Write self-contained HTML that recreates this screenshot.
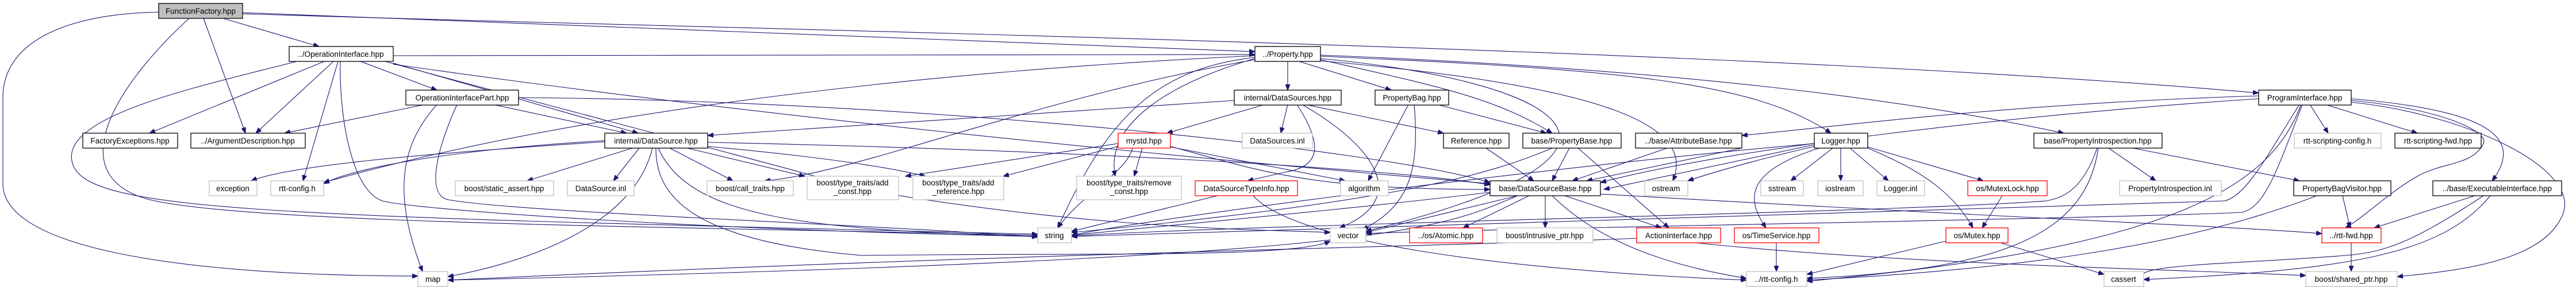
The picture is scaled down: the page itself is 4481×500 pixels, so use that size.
<!DOCTYPE html>
<html><head><meta charset="utf-8"><style>
html,body{margin:0;padding:0;background:#fff;}
svg{display:block;}
text{font-family:"Liberation Sans",sans-serif;font-size:13.5px;fill:#000;text-anchor:middle;}
.n rect{fill:#fff;stroke:#000;stroke-width:1.3;}
.g rect{fill:#fff;stroke:#bfbfbf;stroke-width:1.3;}
.r rect{fill:#fff;stroke:#ff0000;stroke-width:1.3;}
.e path{fill:none;stroke:#191970;stroke-width:1.1;marker-end:url(#a);}
</style></head><body>
<svg width="4481" height="500" viewBox="0 0 4481 500" xmlns="http://www.w3.org/2000/svg">
<defs><marker id="a" markerUnits="userSpaceOnUse" markerWidth="11" markerHeight="8" refX="10" refY="4" orient="auto"><path d="M0,0 L10,4 L0,8 z" fill="#191970" stroke="#191970"/></marker></defs>
<g class="e">
<!-- FunctionFactory -->
<path d="M388,32 L555,81"/>
<path d="M354,32 L427,232"/>
<path d="M276,21 C100,25 5,80 5,170 L5,320 C5,430 300,480 727,481"/>
<path d="M329,32 C200,150 110,300 250,345 C400,390 1200,395 1805,410"/>
<path d="M422,22 L2183,90"/>
<path d="M422,24 C1200,50 3000,80 3929,162"/>
<!-- OperationInterface -->
<path d="M564,107 L260,232"/>
<path d="M580,107 L445,232"/>
<path d="M588,107 L527,315"/>
<path d="M592,107 C590,200 610,330 665,350 C720,365 1200,400 1805,412"/>
<path d="M516,107 C350,150 110,200 125,280 C140,370 450,375 1805,408"/>
<path d="M627,107 L760,157"/>
<path d="M684,110 L1110,232"/>
<path d="M684,112 C1300,200 2000,270 2592,320"/>
<path d="M684,97 L2183,95"/>
<path d="M670,107 C900,170 1400,300 1500,330 C1900,400 2200,400 2314,405"/>
<!-- OperationInterfacePart -->
<path d="M740,182 L495,232"/>
<path d="M857,182 L1090,232"/>
<path d="M902,170 C1600,175 2400,260 2592,318"/>
<path d="M795,182 C760,260 740,340 780,348 C900,370 1500,390 1805,413"/>
<path d="M760,182 C700,250 680,330 735,473"/>
<!-- internal/DataSource -->
<path d="M1100,258 L917,315"/>
<path d="M1112,258 L1067,315"/>
<path d="M1165,258 L1275,315"/>
<path d="M1195,258 L1400,307"/>
<path d="M1231,255 C1500,280 1580,300 1610,307"/>
<path d="M1231,248 C1800,260 2400,290 2592,322"/>
<path d="M1052,245 C800,260 620,290 563,320"/>
<path d="M1052,247 C700,270 500,290 437,315"/>
<path d="M1141,258 C1140,340 1200,420 1500,445 C1900,440 2250,450 2314,420"/>
<path d="M1145,258 C1200,380 1400,400 1805,412"/>
<path d="M1135,258 C1100,400 900,460 779,482"/>
<!-- mystd -->
<path d="M1945,250 L1575,307"/>
<path d="M1945,255 L1745,307"/>
<path d="M1987,258 L1973,307"/>
<path d="M2036,255 C2200,300 2280,330 2592,330"/>
<path d="M2036,256 L2340,315"/>
<path d="M1970,258 C1960,300 1880,340 1840,397"/>
<!-- internal/DataSources -->
<path d="M2147,175 L1231,236"/>
<path d="M2200,182 L2030,232"/>
<path d="M2240,182 L2228,232"/>
<path d="M2270,182 L2511,232"/>
<path d="M2256,182 C2300,250 2300,290 2235,300 L2170,315"/>
<path d="M2265,182 C2400,260 2450,350 2330,397"/>
<!-- Property -->
<path d="M2240,107 L2240,157"/>
<path d="M2260,107 L2420,157"/>
<path d="M2297,104 C2500,150 2600,170 2700,232"/>
<path d="M2297,98 C2800,120 3050,140 3185,232"/>
<path d="M2297,96 C2900,120 3300,170 3590,232"/>
<path d="M2183,100 C2000,120 1920,220 1840,397"/>
<path d="M2183,102 C2050,140 1920,210 1940,307"/>
<path d="M2183,97 C1700,120 1050,180 563,318"/>
<path d="M2183,104 C1800,170 1500,300 1330,315"/>
<path d="M2297,106 C2800,150 2950,220 2910,315"/>
<path d="M2297,102 C2700,140 2950,260 2376,403"/>
<!-- PropertyBag -->
<path d="M2450,182 L2380,315"/>
<path d="M2460,182 C2470,300 2450,360 2370,400"/>
<path d="M2500,182 L2690,232"/>
<!-- Reference / PropertyBase / AttributeBase -->
<path d="M2585,258 L2668,315"/>
<path d="M2730,258 L2700,315"/>
<path d="M2700,258 C2600,300 2450,350 1864,405"/>
<path d="M2745,258 L2903,397"/>
<path d="M2900,258 L2735,315"/>
<path d="M3030,258 L2760,315"/>
<!-- DataSourceBase -->
<path d="M2640,341 L2376,405"/>
<path d="M2660,341 L2545,397"/>
<path d="M2688,341 L2688,397"/>
<path d="M2722,341 L2890,397"/>
<path d="M2592,335 C2300,370 2000,395 1864,410"/>
<path d="M2640,341 C2500,400 2420,450 779,488"/>
<path d="M2784,338 C3500,380 3900,395 4039,407"/>
<path d="M2700,341 C2800,440 2950,470 3038,485"/>
<!-- DataSourceTypeInfo -->
<path d="M2118,341 L1864,403"/>
<path d="M2180,341 C2250,420 2600,470 3038,488"/>
<!-- ActionInterface -->
<path d="M2850,415 C2500,430 1800,440 779,488"/>
<path d="M2950,423 C3300,460 3800,470 4011,480"/>
<!-- Logger -->
<path d="M3188,258 L3115,315"/>
<path d="M3202,258 L3202,315"/>
<path d="M3218,258 L3285,315"/>
<path d="M3249,256 L3450,315"/>
<path d="M3249,258 C3350,300 3400,340 3432,397"/>
<path d="M3165,258 C3030,300 3040,350 3072,397"/>
<path d="M3156,250 C2700,290 2000,380 1864,410"/>
<path d="M3156,255 C3050,280 2980,300 2936,315"/>
<path d="M3156,252 L2790,330"/>
<!-- MutexLock, Mutex, TimeService -->
<path d="M3483,341 L3448,397"/>
<path d="M3385,420 L3143,478"/>
<path d="M3480,423 L3660,478"/>
<path d="M3090,423 L3090,473"/>
<!-- PropertyIntrospection -->
<path d="M3668,258 L3750,315"/>
<path d="M3710,258 L4000,315"/>
<path d="M3648,258 C3620,340 3580,345 3560,350 C3300,370 2200,390 1864,411"/>
<path d="M3650,258 C3630,400 3500,470 3143,485"/>
<!-- ProgramInterface -->
<path d="M4018,182 L4050,232"/>
<path d="M4045,182 L4205,232"/>
<path d="M4090,172 C4300,190 4400,230 4335,315"/>
<path d="M4090,175 C4250,190 4330,230 4320,250 C4300,290 4250,280 4200,310 C4150,340 4110,380 4080,397"/>
<path d="M4090,178 C4300,200 4500,300 4455,380 C4420,450 4300,470 4170,482"/>
<path d="M3929,167 C3500,180 3200,220 3030,236"/>
<path d="M3929,172 C3500,200 3000,260 2784,318"/>
<path d="M4000,182 C3950,260 3910,340 3870,350 C3600,360 2400,395 1864,412"/>
<path d="M4005,182 C3960,300 3940,360 3900,370 C3700,380 2500,400 2376,407"/>
<path d="M4003,182 C3950,320 3800,430 3143,490"/>
<!-- PropertyBagVisitor / ExecutableInterface / rtt-fwd -->
<path d="M4075,341 L4088,397"/>
<path d="M4030,341 C3800,430 3500,470 3143,488"/>
<path d="M4305,341 L4130,397"/>
<path d="M4320,341 C4200,420 4150,440 4080,445 C3900,460 3700,460 3729,485"/>
<path d="M4332,341 C4250,440 4100,470 3729,487"/>
<path d="M4090,423 L4090,473"/>
</g>
<!-- nodes -->
<g class="n"><rect x="276" y="6" width="146" height="26" style="fill:#bfbfbf"/><text x="349" y="24">FunctionFactory.hpp</text></g>
<g class="n"><rect x="503" y="81" width="181" height="26"/><text x="593" y="99">../OperationInterface.hpp</text></g>
<g class="n"><rect x="706" y="157" width="196" height="26"/><text x="804" y="175">OperationInterfacePart.hpp</text></g>
<g class="n"><rect x="144" y="232" width="165" height="26"/><text x="226" y="250">FactoryExceptions.hpp</text></g>
<g class="n"><rect x="332" y="232" width="199" height="26"/><text x="431" y="250">../ArgumentDescription.hpp</text></g>
<g class="g"><rect x="364" y="315" width="83" height="26"/><text x="405" y="333">exception</text></g>
<g class="g"><rect x="471" y="315" width="92" height="26"/><text x="517" y="333">rtt-config.h</text></g>
<g class="g"><rect x="727" y="473" width="52" height="26"/><text x="753" y="491">map</text></g>
<g class="n"><rect x="1052" y="232" width="179" height="26"/><text x="1141" y="250">internal/DataSource.hpp</text></g>
<g class="g"><rect x="792" y="315" width="171" height="26"/><text x="877" y="333">boost/static_assert.hpp</text></g>
<g class="g"><rect x="987" y="315" width="116" height="26"/><text x="1045" y="333">DataSource.inl</text></g>
<g class="g"><rect x="1230" y="315" width="150" height="26"/><text x="1305" y="333">boost/call_traits.hpp</text></g>
<g class="g"><rect x="1404" y="307" width="159" height="41"/><text x="1483" y="323">boost/type_traits/add</text><text x="1483" y="338">_const.hpp</text></g>
<g class="g"><rect x="1588" y="307" width="158" height="41"/><text x="1667" y="323">boost/type_traits/add</text><text x="1667" y="338">_reference.hpp</text></g>
<g class="n"><rect x="2183" y="81" width="114" height="26"/><text x="2240" y="99">../Property.hpp</text></g>
<g class="n"><rect x="2147" y="157" width="186" height="26"/><text x="2240" y="175">internal/DataSources.hpp</text></g>
<g class="r"><rect x="1945" y="232" width="91" height="26"/><text x="1990" y="250">mystd.hpp</text></g>
<g class="g"><rect x="2161" y="232" width="122" height="26"/><text x="2222" y="250">DataSources.inl</text></g>
<g class="g"><rect x="1873" y="307" width="182" height="41"/><text x="1964" y="323">boost/type_traits/remove</text><text x="1964" y="338">_const.hpp</text></g>
<g class="r"><rect x="2079" y="315" width="178" height="26"/><text x="2168" y="333">DataSourceTypeInfo.hpp</text></g>
<g class="g"><rect x="1805" y="397" width="59" height="26"/><text x="1834" y="415">string</text></g>
<g class="n"><rect x="2392" y="157" width="128" height="26"/><text x="2456" y="175">PropertyBag.hpp</text></g>
<g class="n"><rect x="2511" y="232" width="114" height="26"/><text x="2568" y="250">Reference.hpp</text></g>
<g class="n"><rect x="2649" y="232" width="171" height="26"/><text x="2734" y="250">base/PropertyBase.hpp</text></g>
<g class="n"><rect x="2845" y="232" width="185" height="26"/><text x="2937" y="250">../base/AttributeBase.hpp</text></g>
<g class="g"><rect x="2332" y="315" width="83" height="26"/><text x="2373" y="333">algorithm</text></g>
<g class="n"><rect x="2592" y="315" width="192" height="26"/><text x="2688" y="333">base/DataSourceBase.hpp</text></g>
<g class="g"><rect x="2861" y="315" width="75" height="26"/><text x="2898" y="333">ostream</text></g>
<g class="g"><rect x="2314" y="397" width="62" height="26"/><text x="2345" y="415">vector</text></g>
<g class="r"><rect x="2452" y="397" width="127" height="26"/><text x="2515" y="415">../os/Atomic.hpp</text></g>
<g class="g"><rect x="2604" y="397" width="167" height="26"/><text x="2687" y="415">boost/intrusive_ptr.hpp</text></g>
<g class="r"><rect x="2847" y="397" width="146" height="26"/><text x="2920" y="415">ActionInterface.hpp</text></g>
<g class="n"><rect x="3156" y="232" width="93" height="26"/><text x="3202" y="250">Logger.hpp</text></g>
<g class="n"><rect x="3538" y="232" width="223" height="26"/><text x="3649" y="250">base/PropertyIntrospection.hpp</text></g>
<g class="g"><rect x="3063" y="315" width="74" height="26"/><text x="3100" y="333">sstream</text></g>
<g class="g"><rect x="3162" y="315" width="79" height="26"/><text x="3201" y="333">iostream</text></g>
<g class="g"><rect x="3265" y="315" width="83" height="26"/><text x="3306" y="333">Logger.inl</text></g>
<g class="r"><rect x="3423" y="315" width="138" height="26"/><text x="3492" y="333">os/MutexLock.hpp</text></g>
<g class="g"><rect x="3687" y="315" width="177" height="26"/><text x="3775" y="333">PropertyIntrospection.inl</text></g>
<g class="r"><rect x="3017" y="397" width="147" height="26"/><text x="3090" y="415">os/TimeService.hpp</text></g>
<g class="r"><rect x="3385" y="397" width="108" height="26"/><text x="3439" y="415">os/Mutex.hpp</text></g>
<g class="g"><rect x="3038" y="473" width="105" height="26"/><text x="3090" y="491">../rtt-config.h</text></g>
<g class="g"><rect x="3660" y="473" width="69" height="26"/><text x="3694" y="491">cassert</text></g>
<g class="n"><rect x="3929" y="157" width="161" height="26"/><text x="4009" y="175">ProgramInterface.hpp</text></g>
<g class="g"><rect x="3991" y="232" width="151" height="26"/><text x="4066" y="250">rtt-scripting-config.h</text></g>
<g class="n"><rect x="4166" y="232" width="150" height="26"/><text x="4241" y="250">rtt-scripting-fwd.hpp</text></g>
<g class="n"><rect x="3990" y="315" width="169" height="26"/><text x="4074" y="333">PropertyBagVisitor.hpp</text></g>
<g class="n"><rect x="4232" y="315" width="224" height="26"/><text x="4344" y="333">../base/ExecutableInterface.hpp</text></g>
<g class="r"><rect x="4039" y="397" width="103" height="26"/><text x="4090" y="415">../rtt-fwd.hpp</text></g>
<g class="g"><rect x="4011" y="473" width="159" height="26"/><text x="4090" y="491">boost/shared_ptr.hpp</text></g>
</svg>
</body></html>
